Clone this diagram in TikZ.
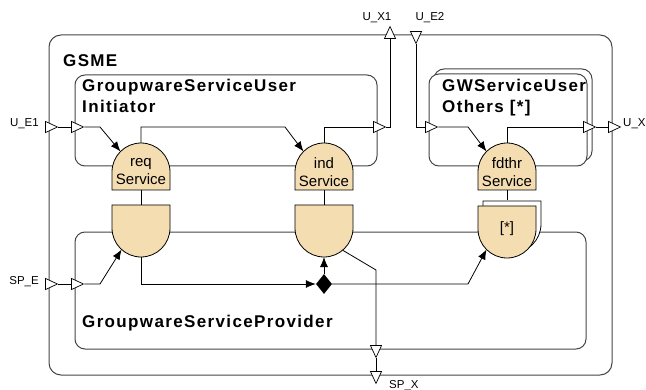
\documentclass[tikz,border=0pt]{standalone}
\usepackage{fontspec}
\setmainfont{Liberation Sans}
\usetikzlibrary{positioning,shapes.geometric,arrows.meta,backgrounds}

\definecolor{svcfill}{RGB}{245,221,178}
\definecolor{boxline}{RGB}{70,70,70}

\tikzset{
  agent/.style={draw=boxline, line width=1pt, rounded corners=10pt, fill=white},
  agentlbl/.style={font=\fontsize{17}{21}\selectfont\bfseries\addfontfeature{LetterSpace=8}, anchor=base west, align=left, inner sep=0pt},
  svc/.style={font=\fontsize{15}{18}\selectfont, align=center, inner sep=0pt},
  dome/.style={draw=black, line width=0.8pt, fill=svcfill},
  port/.style={isosceles triangle, isosceles triangle apex angle=50, draw=black, fill=white, inner sep=0pt, minimum height=12pt, line width=0.7pt},
  portlbl/.style={font=\fontsize{11.5}{13}\selectfont, inner sep=0pt},
  link/.style={draw=black, line width=0.8pt},
  sig/.style={link, -{Latex[length=10pt,width=8pt]}},
}

\newcommand{\domeup}[1]{\filldraw[dome] ([shift={(-29,-18)}]#1.center) -- ++(0,18) arc(180:0:29pt) -- ++(0,-18) -- cycle;}
\newcommand{\domedown}[1]{\filldraw[dome] ([shift={(-29,23)}]#1.center) -- ++(0,-23) arc(180:360:29pt) -- ++(0,23) -- cycle;}

\begin{document}
\begin{tikzpicture}[x=1pt, y=1pt]
  \useasboundingbox (0,0) rectangle (646,389);

  %  Define nodes
  \node[svc] (req) at (141,217) {req\\Service};
  \node[svc] (ind) at (324,217) {ind\\Service};
  \node[svc] (fd) at (507,217) {fdthr\\Service};
  \node[svc] (reqsp) at (141,161) {};
  \node[svc] (indsp) at (324,161) {};
  \node[svc] (fdsp) at (507,160) {[*]};
  \node[diamond, fill=black, inner sep=0pt, minimum width=16pt, minimum height=20pt] (route) at (324,105) {};

  % Agents
  \begin{scope}[on background layer]
    \draw[agent, rounded corners=12pt] (49,14) rectangle (612,354);
    \draw[agent] (75,223) rectangle (377,314);
    \draw[agent] (434,228) rectangle (592,320);
    \draw[agent] (429,223) rectangle (587,315);
    \draw[agent] (75,40) rectangle (586,157);
    \domeup{req}
    \domeup{ind}
    \domeup{fd}
    \domedown{reqsp}
    \domedown{indsp}
    \filldraw[dome, fill=white] ([shift={(-24,28)}]fdsp.center) -- ++(0,-23) arc(180:360:29pt) -- ++(0,23) -- cycle;
    \domedown{fdsp}
  \end{scope}

  \node[agentlbl] (gsmelbl) at (63,322) {GSME};
  \node[agentlbl] (initlbl) at (82,276) {GroupwareServiceUser\\Initiator};
  \node[agentlbl] (othlbl) at (442,276) {GWServiceUser\\Others [*]};
  \node[agentlbl] (provlbl) at (82,62) {GroupwareServiceProvider};

  % Ports
  \node[port] (ue1o) at (49,262) {};
  \node[port] (ue1i) at (75,262) {};
  \node[port] (ux1i) at (377,262) {};
  \node[port, shape border rotate=90] (ux1o) at (390,354) {};
  \node[port, shape border rotate=270] (ue2o) at (416,354) {};
  \node[port] (ue2i) at (429,262) {};
  \node[port] (ux2i) at (587,262) {};
  \node[port] (ux2o) at (612,262) {};
  \node[port] (speo) at (49,105) {};
  \node[port] (spei) at (75,105) {};
  \node[port, shape border rotate=270] (spxi) at (376,40) {};
  \node[port, shape border rotate=270] (spxo) at (376,14) {};

  \node[portlbl, anchor=base east] (ue1lbl) at (39,262) {U\_E1};
  \node[portlbl, anchor=base] (ux1lbl) at (377,368) {U\_X1};
  \node[portlbl, anchor=base] (ue2lbl) at (430,368) {U\_E2};
  \node[portlbl, anchor=base west] (ux2lbl) at (623,262) {U\_X2};
  \node[portlbl, anchor=base east] (spelbl) at (39,105) {SP\_E};
  \node[portlbl, anchor=base west] (spxlbl) at (389,1) {SP\_X};

  % Connect the nodes
  \draw[link] (ue1o) -- (ue1i);
  \draw[sig] (ue1i) -- (100,262) -- ([shift={(135:29pt)}]req.center);
  \draw[sig] ([yshift=29pt]req.center) |- (285,262) -- ([shift={(135:29pt)}]ind.center);
  \draw[link] ([yshift=29pt]ind.center) |- (ux1i);
  \draw[link] (ux1i) -| (ux1o);
  \draw[link] (ue2o) |- (ue2i);
  \draw[sig] (ue2i) -- (468,262) -- ([shift={(135:29pt)}]fd.center);
  \draw[link] ([yshift=29pt]fd.center) |- (ux2i);
  \draw[link] (ux2i) -- (ux2o);

  \draw[link] ([yshift=-18pt]req.center) -- ([yshift=23pt]reqsp.center);
  \draw[link] ([yshift=-18pt]ind.center) -- ([yshift=23pt]indsp.center);
  \draw[link] ([yshift=-18pt]fd.center) -- ([shift={(0,29)}]fdsp.center);

  \draw[link] (speo) -- (spei);
  \draw[sig] (spei) -- (100,105) -- ([shift={(228:29pt)}]reqsp.center);
  \draw[sig] ([yshift=-29pt]reqsp.center) |- (route);
  \draw[sig] (route) -- ([yshift=-29pt]indsp.center);
  \draw[sig] (route) -- (468,105) -- ([shift={(225:29pt)}]fdsp.center);
  \draw[link] ([shift={(-50:29pt)}]indsp.center) -- (376,119) -- (spxi);
  \draw[link] (spxi) -- (spxo);
\end{tikzpicture}
\end{document}
